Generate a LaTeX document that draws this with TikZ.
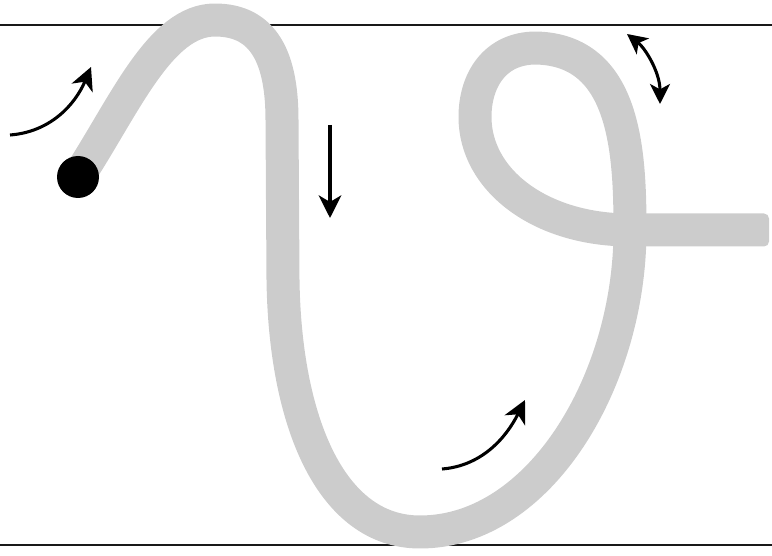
\documentclass[tikz,border=0pt]{standalone}
\usetikzlibrary{arrows.meta}
\begin{document}
\begin{tikzpicture}[x=0.75pt,y=-0.75pt,
  rule/.style={line width=1.5pt,black!90},
  rope/.style={line width=24.75pt,color=black!20,line join=round},
  motion/.style={line width=2.3pt,black,-{Stealth[length=17pt,width=17pt,inset=5pt]}},
  twoway/.style={line width=2.3pt,black,{Stealth[length=15pt,width=15pt,inset=4pt]}-{Stealth[length=15pt,width=15pt,inset=4pt]}}]
\useasboundingbox (0,0) rectangle (772,556);
% horizontal rules
\coordinate (tl) at (0,25);   \coordinate (tr) at (772,25);
\coordinate (bl) at (0,545);  \coordinate (br) at (772,545);
\draw[rule] (tl) -- (tr);
\draw[rule] (bl) -- (br);
% the rope
\coordinate (start) at (78,177);
\coordinate (cross) at (630,230);
\draw[rope] (start) .. controls (125,105) and (160,20) .. (215,20)
  .. controls (265,20) and (282,60) .. (282,120)
  -- (283,280)
  .. controls (285,420) and (330,532) .. (420,532)
  .. controls (540,532) and (630,380) .. (cross)
  .. controls (630,150) and (625,50) .. (536,48)
  .. controls (495,48) and (475,80) .. (475,117)
  .. controls (475,180) and (540,230) .. (cross);
\fill[black!20,rounded corners=5*0.75pt] (620,213.5) rectangle (769,246.5);
% the knob
\fill[black] (start) circle[radius=21];
% arrows
\coordinate (a1s) at (10,135);  \coordinate (a1e) at (91,67);
\draw[motion] (a1s) .. controls (50,132) and (75,105) .. (a1e);
\coordinate (a2s) at (330,125); \coordinate (a2e) at (330,218);
\draw[motion] (a2s) -- (a2e);
\coordinate (a3s) at (627,34);  \coordinate (a3e) at (660,104);
\draw[twoway] (a3s) .. controls (645,48) and (660,72) .. (a3e);
\coordinate (a4s) at (442,469); \coordinate (a4e) at (525,400);
\draw[motion] (a4s) .. controls (480,466) and (505,440) .. (a4e);
\end{tikzpicture}
\end{document}
